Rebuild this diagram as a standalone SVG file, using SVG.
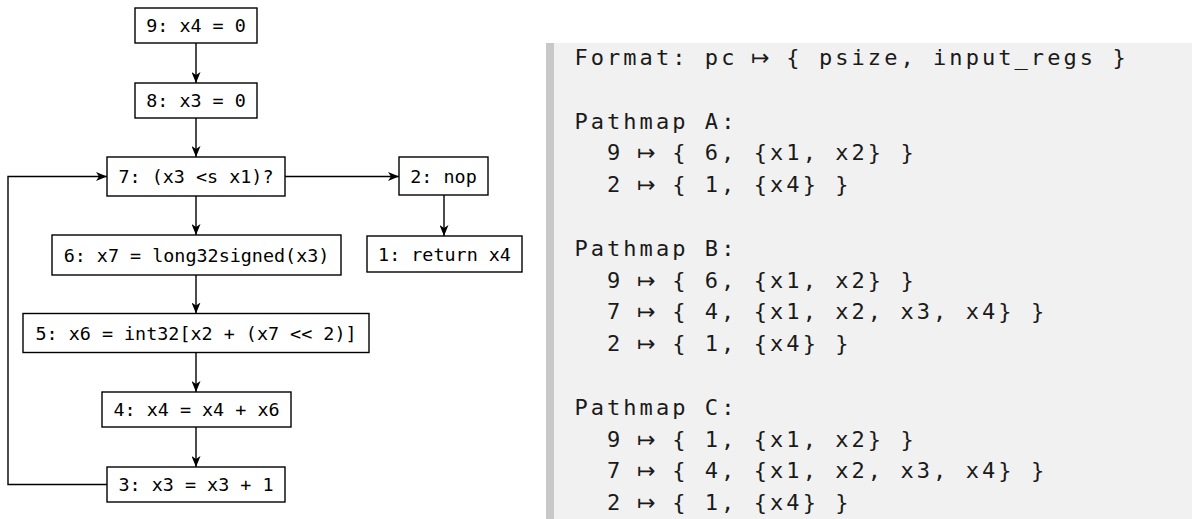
<svg xmlns="http://www.w3.org/2000/svg" width="1192" height="519" viewBox="0 0 1192 519">
<style>
.box{fill:#fff;stroke:#000;stroke-width:1.4}
.lbl{font-family:"DejaVu Sans Mono","Liberation Mono",monospace;font-size:18.4px;fill:#000;text-anchor:middle;dominant-baseline:central}
.edge{fill:none;stroke:#000;stroke-width:1.4}
.code{font-family:"DejaVu Sans Mono","Liberation Mono",monospace;font-size:22px;letter-spacing:3.06px;fill:#1a1a1a}
.arr{font-family:"DejaVu Sans",sans-serif;font-size:22px;fill:#1a1a1a;text-anchor:middle}
</style>
<defs>
<marker id="ah" viewBox="0 0 11 9" refX="11" refY="4.5" markerWidth="11" markerHeight="9" markerUnits="userSpaceOnUse" orient="auto">
<path d="M0,0 L11,4.5 L0,9 L3,4.5 z" fill="#000"/>
</marker>
</defs>
<rect width="1192" height="519" fill="#fff"/>
<g id="connectors">
<line class="edge" x1="196" y1="43" x2="196" y2="83" marker-end="url(#ah)"/>
<line class="edge" x1="196" y1="118" x2="196" y2="157" marker-end="url(#ah)"/>
<line class="edge" x1="196" y1="196" x2="196" y2="235" marker-end="url(#ah)"/>
<line class="edge" x1="196" y1="275" x2="196" y2="313.5" marker-end="url(#ah)"/>
<line class="edge" x1="196" y1="352.5" x2="196" y2="392" marker-end="url(#ah)"/>
<line class="edge" x1="196" y1="427" x2="196" y2="467" marker-end="url(#ah)"/>
<line class="edge" x1="285" y1="176.5" x2="399" y2="176.5" marker-end="url(#ah)"/>
<line class="edge" x1="444" y1="195" x2="444" y2="236" marker-end="url(#ah)"/>
<polyline class="edge" points="107,484.5 8,484.5 8,176.5 107,176.5" marker-end="url(#ah)"/>
</g>
<g id="n9"><rect class="box" x="135" y="8" width="122" height="35"/><text class="lbl" x="196" y="25.5">9: x4 = 0</text></g>
<g id="n8"><rect class="box" x="135" y="83" width="122" height="35"/><text class="lbl" x="196" y="100.5">8: x3 = 0</text></g>
<g id="n7"><rect class="box" x="107" y="157" width="178" height="39"/><text class="lbl" x="196" y="176.5">7: (x3 &lt;s x1)?</text></g>
<g id="n2"><rect class="box" x="399" y="157" width="89" height="38"/><text class="lbl" x="443.5" y="176">2: nop</text></g>
<g id="n6"><rect class="box" x="52" y="235" width="289" height="40"/><text class="lbl" x="196.5" y="255">6: x7 = long32signed(x3)</text></g>
<g id="n1"><rect class="box" x="367" y="236" width="155" height="36"/><text class="lbl" x="444.5" y="254">1: return x4</text></g>
<g id="n5"><rect class="box" x="23" y="313.5" width="346" height="39"/><text class="lbl" x="196" y="333">5: x6 = int32[x2 + (x7 &lt;&lt; 2)]</text></g>
<g id="n4"><rect class="box" x="102" y="392" width="189" height="35"/><text class="lbl" x="196.5" y="409.5">4: x4 = x4 + x6</text></g>
<g id="n3"><rect class="box" x="107" y="467" width="178" height="35"/><text class="lbl" x="196" y="484.5">3: x3 = x3 + 1</text></g>
<g id="panel">
<rect x="546" y="43" width="646" height="476" fill="#f1f1f1"/>
<rect x="546" y="43" width="8" height="476" fill="#c8c8c8"/>
<text class="code" x="574.4" y="65">Format: pc</text><text class="arr" x="760.3" y="65">↦</text><text class="code" x="786.3" y="65">{ psize, input_regs }</text>
<text class="code" x="574.4" y="128.6">Pathmap A:</text>
<text class="code" x="607" y="160.4">9</text><text class="arr" x="646.2" y="160.4">↦</text><text class="code" x="672.2" y="160.4">{ 6, {x1, x2} }</text>
<text class="code" x="607" y="192.2">2</text><text class="arr" x="646.2" y="192.2">↦</text><text class="code" x="672.2" y="192.2">{ 1, {x4} }</text>
<text class="code" x="574.4" y="255.8">Pathmap B:</text>
<text class="code" x="607" y="287.6">9</text><text class="arr" x="646.2" y="287.6">↦</text><text class="code" x="672.2" y="287.6">{ 6, {x1, x2} }</text>
<text class="code" x="607" y="319.4">7</text><text class="arr" x="646.2" y="319.4">↦</text><text class="code" x="672.2" y="319.4">{ 4, {x1, x2, x3, x4} }</text>
<text class="code" x="607" y="351.2">2</text><text class="arr" x="646.2" y="351.2">↦</text><text class="code" x="672.2" y="351.2">{ 1, {x4} }</text>
<text class="code" x="574.4" y="414.8">Pathmap C:</text>
<text class="code" x="607" y="446.6">9</text><text class="arr" x="646.2" y="446.6">↦</text><text class="code" x="672.2" y="446.6">{ 1, {x1, x2} }</text>
<text class="code" x="607" y="478.4">7</text><text class="arr" x="646.2" y="478.4">↦</text><text class="code" x="672.2" y="478.4">{ 4, {x1, x2, x3, x4} }</text>
<text class="code" x="607" y="510.2">2</text><text class="arr" x="646.2" y="510.2">↦</text><text class="code" x="672.2" y="510.2">{ 1, {x4} }</text>
</g>
</svg>
